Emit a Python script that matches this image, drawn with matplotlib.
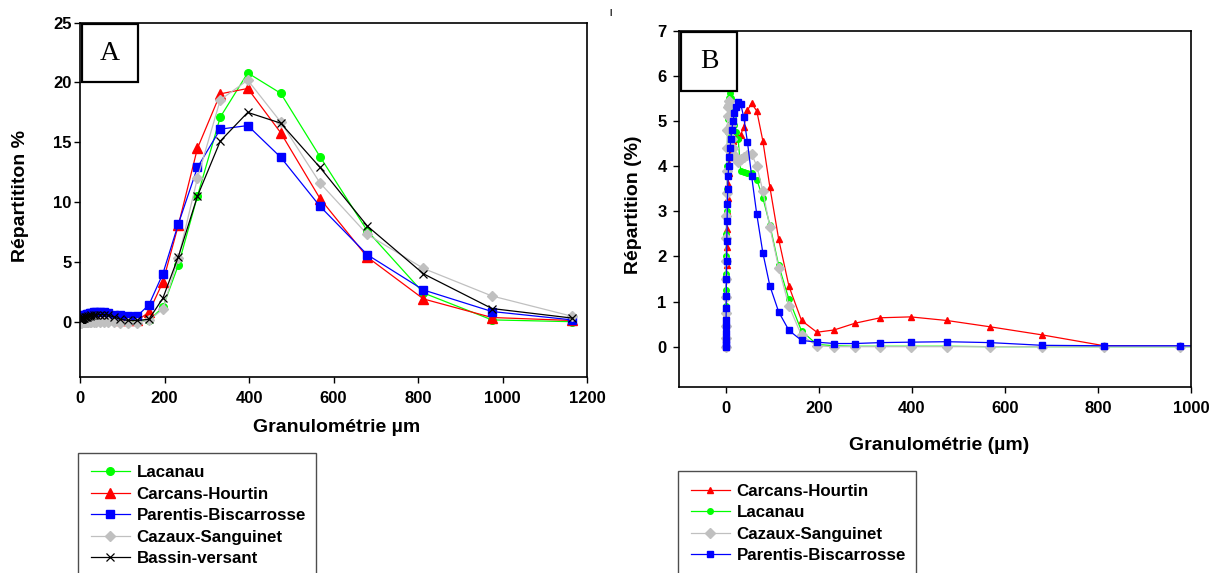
import matplotlib
matplotlib.use("Agg")
import matplotlib.pyplot as plt
from matplotlib.patches import Rectangle

plt.rcParams['font.family'] = ['Liberation Sans', 'DejaVu Sans']
plt.rcParams['font.weight'] = 'bold'

# grain-size classes (µm), same classes for both panels
x_classes = [0.4, 0.5, 0.6, 0.75, 0.9, 1.1, 1.3, 1.5, 1.8, 2.2, 2.6, 3.2, 3.8, 4.5,
             5.4, 6.5, 7.8, 9.3, 11.1, 13.3, 15.9, 19, 22.7, 27, 32.5, 39, 47, 56,
             67, 80, 95, 114, 136, 163, 196, 233, 278, 332, 397, 475, 568, 680,
             813, 975, 1165]

# panel A
lacanau_a = [0.02, 0.03, 0.03, 0.04, 0.05, 0.05, 0.06, 0.06, 0.07, 0.08, 0.08, 0.09,
             0.1, 0.1, 0.11, 0.12, 0.13, 0.14, 0.15, 0.17, 0.19, 0.21, 0.24, 0.28,
             0.3, 0.32, 0.33, 0.32, 0.28, 0.2, 0.1, 0.02, 0.0, 0.1, 1.2, 4.75, 10.5,
             17.1, 20.8, 19.1, 13.8, 7.6, 2.4, 0.15, 0.0]
carcans_a = [0.25, 0.25, 0.24, 0.24, 0.23, 0.23, 0.22, 0.22, 0.22, 0.23, 0.24, 0.25,
             0.27, 0.3, 0.33, 0.36, 0.38, 0.4, 0.42, 0.44, 0.46, 0.48, 0.5, 0.52,
             0.54, 0.55, 0.55, 0.52, 0.45, 0.3, 0.15, 0.1, 0.1, 0.8, 3.3, 8.1, 14.5,
             19.05, 19.5, 15.8, 10.3, 5.4, 1.9, 0.35, 0.1]
parentis_a = [0.25, 0.27, 0.28, 0.3, 0.31, 0.32, 0.33, 0.34, 0.35, 0.37, 0.38, 0.4,
              0.42, 0.44, 0.46, 0.48, 0.5, 0.53, 0.56, 0.6, 0.64, 0.68, 0.72, 0.76,
              0.78, 0.8, 0.82, 0.8, 0.7, 0.6, 0.52, 0.5, 0.5, 1.4, 4.0, 8.2, 12.9,
              16.1, 16.4, 13.75, 9.65, 5.6, 2.65, 0.85, 0.15]
cazaux_a = [-0.1, -0.1, -0.1, -0.1, -0.1, -0.08, -0.08, -0.08, -0.06, -0.06, -0.05,
            -0.05, -0.04, -0.03, -0.02, -0.01, 0.0, 0.0, 0.0, 0.0, 0.0, 0.0, 0.0, 0.0,
            0.0, 0.0, 0.0, 0.0, 0.0, -0.05, -0.08, -0.08, -0.08, 0.1, 1.05, 5.35,
            12.0, 18.55, 20.2, 16.7, 11.6, 7.3, 4.45, 2.15, 0.45]
bassin_a = [0.2, 0.2, 0.2, 0.2, 0.2, 0.2, 0.2, 0.21, 0.21, 0.22, 0.23, 0.24, 0.25,
            0.27, 0.29, 0.31, 0.33, 0.35, 0.37, 0.4, 0.43, 0.46, 0.5, 0.53, 0.56,
            0.58, 0.6, 0.6, 0.55, 0.4, 0.2, 0.1, 0.1, 0.2, 1.95, 5.45, 10.5, 15.1,
            17.5, 16.6, 12.9, 8.0, 4.0, 1.1, 0.3]

# panel B
carcans_b = [0.0, 0.1, 0.2, 0.35, 0.5, 0.7, 0.9, 1.2, 1.5, 1.8, 2.2, 2.6, 3.0, 3.3,
             3.6, 3.85, 4.05, 4.2, 4.35, 4.45, 4.55, 4.6, 4.65, 4.65, 4.7, 4.87,
             5.24, 5.39, 5.22, 4.56, 3.54, 2.38, 1.34, 0.58, 0.32, 0.37, 0.52, 0.64,
             0.66, 0.58, 0.44, 0.26, 0.02, 0.01, 0.01]
lacanau_b = [0.0, 0.15, 0.35, 0.6, 0.9, 1.25, 1.6, 2.0, 2.5, 3.0, 3.5, 4.0, 4.4, 4.75,
             5.05, 5.3, 5.5, 5.63, 5.5, 5.3, 5.1, 4.9, 4.75, 4.6, 3.9, 3.87, 3.85,
             3.85, 3.7, 3.3, 2.7, 1.8, 1.05, 0.35, 0.05, 0.02, 0.01, 0.01, 0.01,
             0.01, 0.0, 0.0, 0.0, 0.0, 0.0]
cazaux_b = [0.0, 0.2, 0.45, 0.75, 1.1, 1.5, 1.9, 2.4, 2.9, 3.4, 3.9, 4.4, 4.8, 5.1,
            5.3, 5.45, 5.35, 5.12, 4.9, 4.6, 4.4, 4.25, 4.15, 4.1, 4.15, 4.2, 4.25,
            4.27, 4.0, 3.45, 2.65, 1.75, 0.9, 0.25, 0.02, 0.0, 0.0, 0.0, 0.0, 0.0,
            0.0, 0.0, 0.0, 0.0, 0.0]
parentis_b = [0.0, 0.05, 0.15, 0.3, 0.45, 0.6, 0.85, 1.13, 1.5, 1.9, 2.35, 2.78, 3.17,
              3.5, 3.77, 4.0, 4.2, 4.4, 4.6, 4.8, 5.0, 5.17, 5.3, 5.43, 5.38, 5.08,
              4.53, 3.77, 2.93, 2.08, 1.35, 0.77, 0.36, 0.14, 0.1, 0.07, 0.07, 0.09,
              0.1, 0.11, 0.09, 0.03, 0.02, 0.02, 0.01]

GREEN = '#00ff00'
RED = '#ff0000'
BLUE = '#0000ff'
GRAY = '#c0c0c0'
BLACK = '#000000'

fig = plt.figure(figsize=(12.15, 5.73), dpi=100)


def style_axes(ax, letter):
    for s in ax.spines.values():
        s.set_linewidth(1.2)
    ax.tick_params(direction='out', length=4, width=1, labelsize=12)
    for lab in ax.get_xticklabels() + ax.get_yticklabels():
        lab.set_fontweight('bold')
    ax.add_patch(Rectangle((0.003, 0.832), 0.111, 0.164, transform=ax.transAxes,
                           facecolor='white', edgecolor='black', lw=1.6, zorder=10))
    ax.text(0.0585, 0.914, letter, transform=ax.transAxes, ha='center', va='center',
            fontsize=20, family='Liberation Serif', fontweight='normal', zorder=11)


def add_legend(ax, left_px, top_px):
    leg = ax.legend(loc='upper left', bbox_to_anchor=(left_px / 1215, 0, 238 / 1215, 1 - top_px / 573),
                    bbox_transform=fig.transFigure, mode='expand', fontsize=12.2,
                    frameon=True, fancybox=False, shadow=False, borderpad=0.75,
                    labelspacing=0.38, handlelength=2.3, handletextpad=0.4,
                    borderaxespad=0, numpoints=1)
    leg.get_frame().set_edgecolor('#222222')
    leg.get_frame().set_linewidth(1.0)
    return leg


# ---- panel A ----
axA = fig.add_axes([80 / 1215, 1 - 376.7 / 573, 507 / 1215, 354 / 573])
axA.plot(x_classes, lacanau_a, color=GREEN, lw=0.9, marker='o', ms=5.5, mec=GREEN, label='Lacanau')
axA.plot(x_classes, carcans_a, color=RED, lw=0.9, marker='^', ms=6.5, mec=RED, label='Carcans-Hourtin')
axA.plot(x_classes, parentis_a, color=BLUE, lw=0.9, marker='s', ms=6, mec=BLUE, label='Parentis-Biscarrosse')
axA.plot(x_classes, cazaux_a, color=GRAY, lw=0.9, marker='D', ms=5.5, mec=GRAY, label='Cazaux-Sanguinet')
axA.plot(x_classes, bassin_a, color=BLACK, lw=0.9, marker='x', ms=6, mew=0.9, label='Bassin-versant')
axA.set_xlim(0, 1200)
axA.set_ylim(-4.6, 25)
axA.set_xticks([0, 200, 400, 600, 800, 1000, 1200])
axA.set_yticks([0, 5, 10, 15, 20, 25])
axA.tick_params(axis='x', pad=6)
axA.tick_params(axis='y', pad=2)
style_axes(axA, 'A')
fig.text(337 / 1215, 1 - 427 / 573, 'Granulométrie µm', ha='center', va='center',
         fontsize=14, fontweight='bold')
fig.text(21 / 1215, 1 - 196 / 573, 'Répartititon %', ha='center', va='center',
         rotation=90, fontsize=14, fontweight='bold')
add_legend(axA, 78, 452.7)

# ---- panel B ----
axB = fig.add_axes([679 / 1215, 1 - 387.3 / 573, 512.4 / 1215, 356.6 / 573])
axB.plot(x_classes, carcans_b, color=RED, lw=0.9, marker='^', ms=5, mec=RED, label='Carcans-Hourtin')
axB.plot(x_classes, lacanau_b, color=GREEN, lw=0.9, marker='o', ms=4, mec=GREEN, label='Lacanau')
axB.plot(x_classes, cazaux_b, color=GRAY, lw=0.9, marker='D', ms=5, mec=GRAY, label='Cazaux-Sanguinet')
axB.plot(x_classes, parentis_b, color=BLUE, lw=0.9, marker='s', ms=5, mec=BLUE, label='Parentis-Biscarrosse')
axB.set_xlim(-100, 1000)
axB.set_ylim(-0.9, 7)
axB.set_xticks([0, 200, 400, 600, 800, 1000])
axB.set_yticks([0, 1, 2, 3, 4, 5, 6, 7])
axB.tick_params(axis='x', pad=6)
axB.tick_params(axis='y', pad=5)
style_axes(axB, 'B')
fig.text(939 / 1215, 1 - 445 / 573, 'Granulométrie (µm)', ha='center', va='center',
         fontsize=14, fontweight='bold')
fig.text(633 / 1215, 1 - 205 / 573, 'Répartition (%)', ha='center', va='center',
         rotation=90, fontsize=14, fontweight='bold')
add_legend(axB, 678, 471)

# small stray mark at the top of the original
fig.text(611 / 1215, 1 - 13 / 573, '|', ha='center', va='center', fontsize=6)

fig.savefig('out.png', dpi=100)
